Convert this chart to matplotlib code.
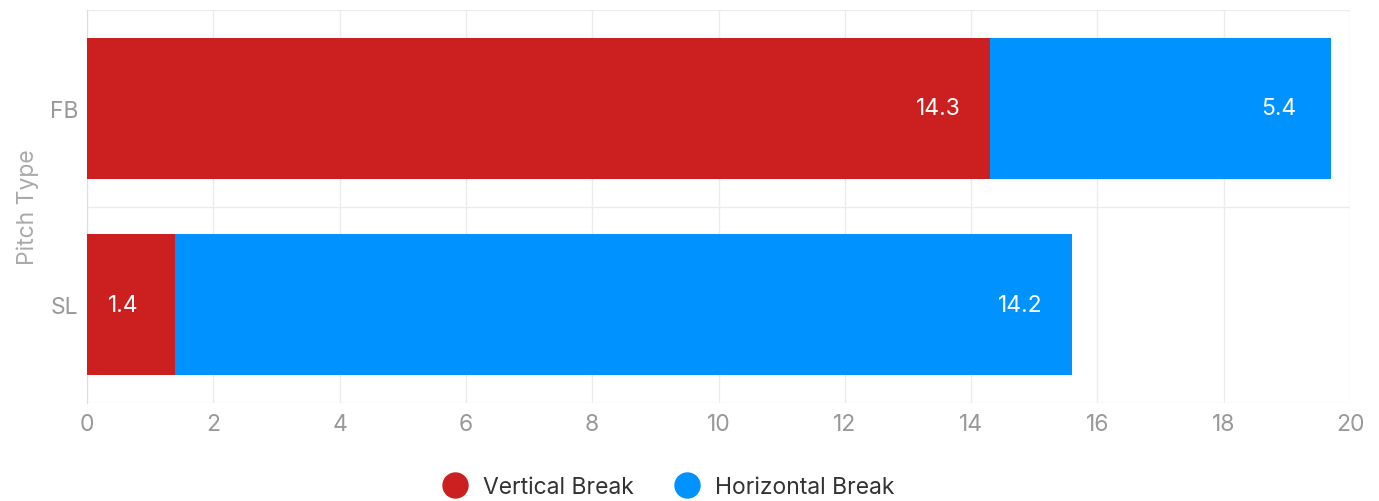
import matplotlib.pyplot as plt
from matplotlib.lines import Line2D

plt.rcParams['font.family'] = ['Inter', 'DejaVu Sans']

pitch_types = ['SL', 'FB']
vertical_break = [1.4, 14.3]
horizontal_break = [14.2, 5.4]
x_ticks = [0, 2, 4, 6, 8, 10, 12, 14, 16, 18, 20]

red = '#cc2020'
blue = '#0092ff'
fs = 16.5

fig = plt.figure(figsize=(13.79, 5.02), dpi=100)
ax = fig.add_axes([0.0631, 0.1952, 0.9159, 0.7829])

ypos = list(range(len(pitch_types)))
ax.barh(ypos, vertical_break, height=0.72, color=red, zorder=3)
ax.barh(ypos, horizontal_break, left=vertical_break, height=0.72, color=blue, zorder=3)

# value labels sit a fixed distance in from the end of each segment
for y, v, h in zip(ypos, vertical_break, horizontal_break):
    ax.annotate(f'{v:.1f}', (v, y), xytext=(-37.5, 0), textcoords='offset points',
                ha='center', va='center', color='white', fontsize=fs, zorder=4)
    ax.annotate(f'{h:.1f}', (v + h, y), xytext=(-37.5, 0), textcoords='offset points',
                ha='center', va='center', color='white', fontsize=fs, zorder=4)

ax.set_xlim(0, 20)
ax.set_ylim(-0.5, 1.5)
ax.set_xticks(x_ticks)
ax.set_yticks(ypos)
ax.set_yticklabels(pitch_types)
ax.set_yticks([-0.5, 0.5, 1.5], minor=True)
ax.grid(axis='x', color='#ececec', linewidth=1, zorder=0)
ax.grid(axis='y', which='minor', color='#ececec', linewidth=1, zorder=0)
ax.tick_params(which='both', length=0, labelsize=fs, labelcolor='#999999')
ax.tick_params(axis='x', pad=7)
ax.tick_params(axis='y', pad=6)
for s in ['top', 'right', 'bottom']:
    ax.spines[s].set_visible(False)
ax.spines['left'].set_color('#dddddd')
ax.set_ylabel('Pitch Type', fontsize=fs, color='#aaaaaa', labelpad=8)

handles = [Line2D([], [], marker='o', linestyle='none', markersize=18, color=red),
           Line2D([], [], marker='o', linestyle='none', markersize=18, color=blue)]
fig.legend(handles, ['Vertical Break', 'Horizontal Break'], loc='center',
           bbox_to_anchor=(0.481, 0.028), ncol=2, frameon=False, fontsize=fs,
           labelcolor='#333333', handletextpad=0.25, columnspacing=1.3)

fig.savefig('out.png', dpi=100)
